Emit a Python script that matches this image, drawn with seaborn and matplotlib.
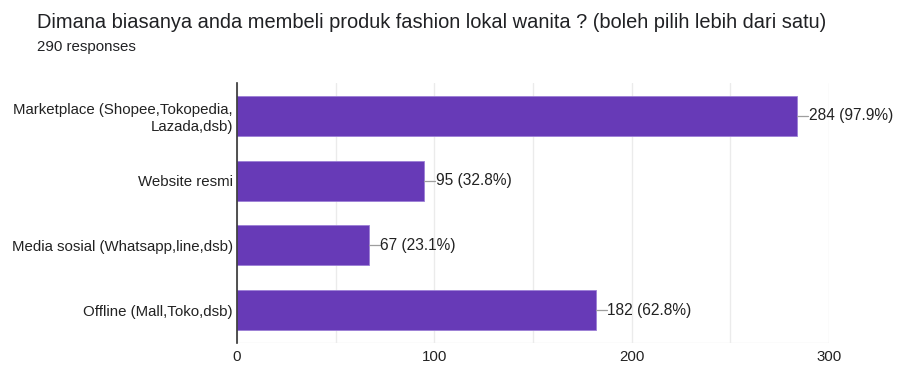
import matplotlib
matplotlib.use("Agg")
import matplotlib.pyplot as plt
import seaborn as sns
import pandas as pd

categories = ["Marketplace (Shopee,Tokopedia,\nLazada,dsb)", "Website resmi",
              "Media sosial (Whatsapp,line,dsb)", "Offline (Mall,Toko,dsb)"]
counts = [284, 95, 67, 182]
percents = ["97.9%", "32.8%", "23.1%", "62.8%"]
title = "Dimana biasanya anda membeli produk fashion lokal wanita ? (boleh pilih lebih dari satu)"
subtitle = "290 responses"

sns.set_theme(style="white")
plt.rcParams['font.family'] = ['Liberation Sans', 'DejaVu Sans']

df = pd.DataFrame({"cat": categories, "n": counts})

fig = plt.figure(figsize=(9.02, 3.66), dpi=100)
ax = fig.add_axes([237/902, 1-343/366, 592/902, 260/366])

sns.barplot(data=df, y="cat", x="n", orient="h", color="#673ab7", saturation=1,
            width=0.62, edgecolor="#9c7fd6", linewidth=0.6, ax=ax)

ax.set_xlim(0, 300)
ax.set_ylim(3.51, -0.51)
ax.set_xticks([0, 100, 200, 300])
ax.set_xticks([50, 150, 250], minor=True)
ax.grid(axis="x", which="both", color="#ebebeb", linewidth=1)
ax.set_axisbelow(True)
ax.set_xlabel("")
ax.set_ylabel("")
for s in ["top", "right", "bottom"]:
    ax.spines[s].set_visible(False)
ax.spines["left"].set_color("#333333")
ax.spines["left"].set_linewidth(1.2)
ax.axhline(3.51, color="#ebebeb", linewidth=1, zorder=0)
ax.tick_params(axis="both", which="both", length=0, labelsize=10.8, colors="#222222")
ax.tick_params(axis="x", pad=5)
ax.tick_params(axis="y", pad=3)
for lab in ax.get_yticklabels():
    lab.set_horizontalalignment("right")
    lab.set_multialignment("right")

for i, (c, p) in enumerate(zip(counts, percents)):
    ax.plot([c, c + 5.5], [i, i], color="#9e9e9e", linewidth=0.9, zorder=3)
    ax.text(c + 5.7, i, f"{c} ({p})", va="center", ha="left", fontsize=11.2,
            color="#222222", clip_on=False)

fig.text(37/902, 1-22/366, title, fontsize=14.4, color="#202124", va="center", ha="left")
fig.text(37/902, 1-47/366, subtitle, fontsize=10.8, color="#202124", va="center", ha="left")

fig.savefig("out.png", dpi=100)
